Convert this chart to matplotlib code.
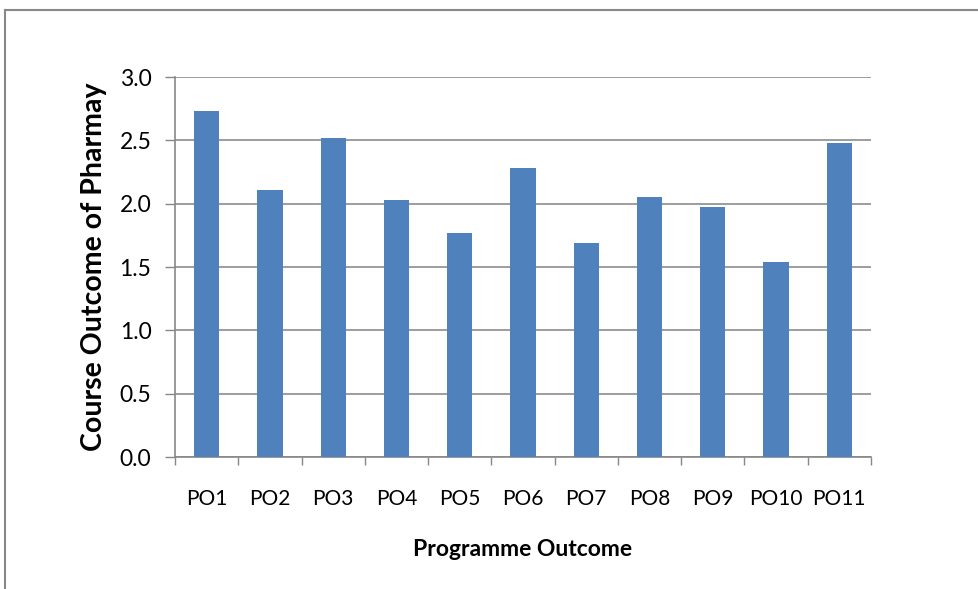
import matplotlib
matplotlib.use("Agg")
import matplotlib.pyplot as plt
import numpy as np

categories = ["PO1", "PO2", "PO3", "PO4", "PO5", "PO6", "PO7", "PO8", "PO9", "PO10", "PO11"]
values = [2.73, 2.11, 2.52, 2.03, 1.77, 2.28, 1.69, 2.05, 1.97, 1.54, 2.48]
yticks = [0.0, 0.5, 1.0, 1.5, 2.0, 2.5, 3.0]

plt.rcParams['font.family'] = ['Lato', 'DejaVu Sans']

W, H = 979, 589
fig = plt.figure(figsize=(W / 100, H / 100), dpi=100)
ax = fig.add_axes([175 / W, 1 - 457 / H, (871 - 175) / W, (457 - 77) / H])

x = np.arange(len(categories))
ax.bar(x, values, width=0.4, color="#4F81BD", zorder=3)
ax.set_xlim(-0.5, len(categories) - 0.5)
ax.set_ylim(0, 3.0)
ax.set_yticks(yticks)
ax.set_yticklabels([f"{v:.1f}" for v in yticks], fontsize=16.5)
ax.set_xticks(x)
ax.set_xticklabels(categories, fontsize=15)
ax.tick_params(axis="x", length=0, pad=23)
ax.set_xticks(np.arange(len(categories) + 1) - 0.5, minor=True)
ax.tick_params(axis="x", which="minor", length=6, color="#888888", width=1)
ax.tick_params(axis="y", length=7, color="#888888", width=1, pad=10)
ax.grid(axis="y", color="#8c8c8c", linewidth=1.2, zorder=0)
for s in ["top", "right"]:
    ax.spines[s].set_visible(False)
for s in ["left", "bottom"]:
    ax.spines[s].set_color("#888888")
    ax.spines[s].set_linewidth(1.2)

ax.set_xlabel("Programme Outcome", fontsize=16.5, fontweight="bold", labelpad=22)
ax.set_ylabel("Course Outcome of Pharmay", fontsize=20.5, fontweight="bold", labelpad=9)

# outer chart frame (top and left edges visible)
fig.add_artist(plt.Line2D([5 / W, 1], [1 - 9.5 / H, 1 - 9.5 / H], color="#888888", linewidth=1.5, transform=fig.transFigure))
fig.add_artist(plt.Line2D([5 / W, 5 / W], [0, 1 - 9.5 / H], color="#888888", linewidth=1.5, transform=fig.transFigure))

fig.savefig("out.png", dpi=100)
